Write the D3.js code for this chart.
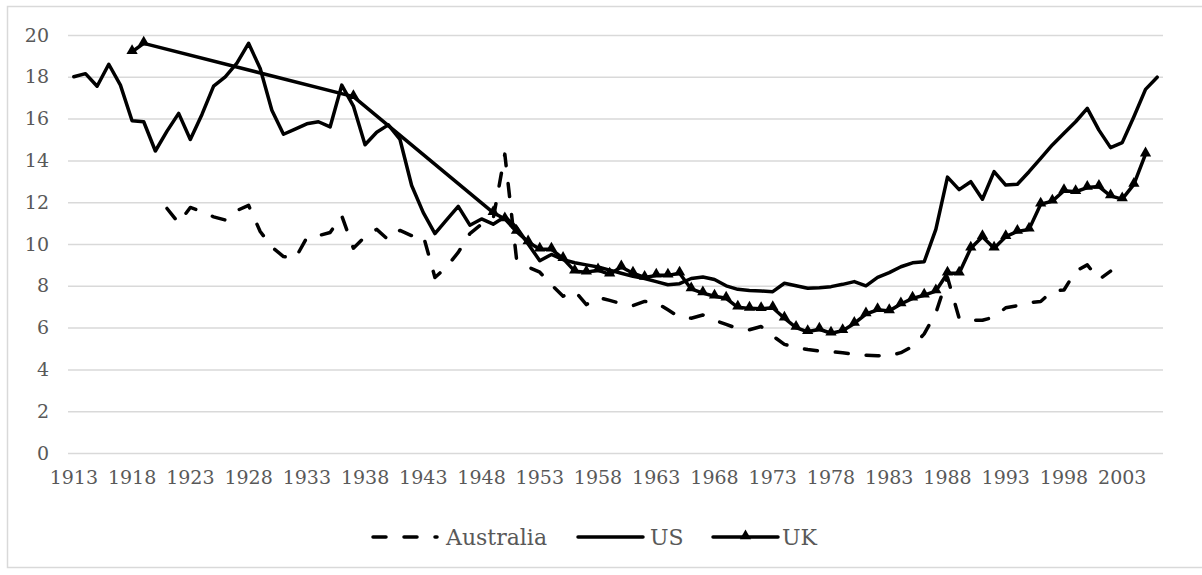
<!DOCTYPE html>
<html><head><meta charset="utf-8">
<script src="https://cdn.jsdelivr.net/npm/d3@7"></script>
<style>body{margin:0;background:#fff}</style>
</head><body>
<svg id="chart" width="1202" height="575"></svg>
<script>
const years = [1913,1914,1915,1916,1917,1918,1919,1920,1921,1922,
1923,1924,1925,1926,1927,1928,1929,1930,1931,1932,
1933,1934,1935,1936,1937,1938,1939,1940,1941,1942,
1943,1944,1945,1946,1947,1948,1949,1950,1951,1952,
1953,1954,1955,1956,1957,1958,1959,1960,1961,1962,
1963,1964,1965,1966,1967,1968,1969,1970,1971,1972,
1973,1974,1975,1976,1977,1978,1979,1980,1981,1982,
1983,1984,1985,1986,1987,1988,1989,1990,1991,1992,
1993,1994,1995,1996,1997,1998,1999,2000,2001,2002,
2003,2004,2005,2006];
const xTickLabels = [1913,1918,1923,1928,1933,1938,1943,1948,1953,1958,1963,1968,1973,1978,1983,1988,1993,1998,2003];
const yTickLabels = [0,2,4,6,8,10,12,14,16,18,20];
const seriesNames = ["Australia","US","UK"];

const australia = [null,null,null,null,null,null,null,null,11.7,11.0,
11.75,11.55,11.3,11.15,11.6,11.85,10.6,9.85,9.4,9.3,
10.3,10.4,10.55,11.35,9.8,10.35,10.7,10.2,10.65,10.4,
10.4,8.4,8.9,9.6,10.5,10.95,11.2,14.3,9.3,8.9,
8.65,8.05,7.5,7.75,7.1,7.45,7.3,7.15,7.05,7.25,
7.2,6.85,6.5,6.45,6.6,6.35,6.15,5.95,5.9,6.05,
5.6,5.2,5.05,4.95,4.88,4.85,4.8,4.72,4.68,4.65,
4.65,4.8,5.1,5.7,6.7,8.4,6.45,6.35,6.35,6.5,
6.95,7.05,7.2,7.25,7.75,7.8,8.7,9.0,8.3,8.7,
null,null,null,null];

const us = [18.0,18.15,17.55,18.6,17.6,15.9,15.85,14.45,15.4,16.25,
15.0,16.2,17.55,18.0,18.65,19.6,18.4,16.4,15.25,15.5,
15.75,15.85,15.6,17.6,16.6,14.75,15.35,15.7,15.0,12.8,
11.5,10.5,11.15,11.8,10.9,11.2,10.95,11.3,10.8,10.0,
9.2,9.5,9.25,9.1,9.0,8.9,8.75,8.6,8.45,8.35,
8.2,8.05,8.1,8.35,8.42,8.3,8.0,7.83,7.78,7.75,
7.72,8.12,8.0,7.88,7.91,7.96,8.07,8.2,8.0,8.4,
8.63,8.91,9.1,9.15,10.7,13.2,12.6,12.98,12.14,13.46,
12.82,12.86,13.46,14.1,14.74,15.3,15.85,16.49,15.45,14.61,
14.85,16.09,17.4,17.98];

const uk = [null,null,null,null,null,19.2,19.6,null,null,null,
null,null,null,null,null,null,null,null,null,null,
null,null,null,null,17.05,null,null,null,null,null,
null,null,null,null,null,null,11.5,11.2,10.6,10.1,
9.75,9.75,9.3,8.7,8.65,8.75,8.55,8.9,8.6,8.4,
8.5,8.5,8.6,7.85,7.65,7.5,7.4,6.97,6.92,6.9,
6.95,6.45,6.0,5.8,5.92,5.73,5.85,6.2,6.65,6.85,
6.8,7.13,7.4,7.55,7.75,8.6,8.6,9.8,10.35,9.8,
10.35,10.6,10.7,11.9,12.05,12.55,12.5,12.7,12.75,12.3,
12.15,12.85,14.3,null];

const FONT = "DejaVu Serif";
const svg = d3.select("#chart");
const plotL = 68, plotR = 1163, plotT = 35, plotB = 453;
const x = d3.scaleBand().domain(years).range([plotL, plotR]);
const cx = d => x(d) + x.bandwidth() / 2;
const y = d3.scaleLinear().domain([0, 20]).range([plotB, plotT]);

svg.append("rect").attr("x", 7.5).attr("y", 6.5).attr("width", 1196).attr("height", 561)
  .attr("fill", "#fff").attr("stroke", "#d9d9d9").attr("stroke-width", 1.5);

const gy = svg.append("g").attr("transform", `translate(${plotL},0)`)
  .call(d3.axisLeft(y).tickValues(yTickLabels).tickSize(-(plotR - plotL)).tickPadding(19).tickFormat(d3.format("d")));
gy.attr("font-family", FONT).attr("font-size", 19);
gy.select(".domain").remove();
gy.selectAll(".tick line").attr("stroke", "#d9d9d9").attr("stroke-width", 1.5);
gy.selectAll(".tick text").attr("fill", "#595959");

const gx = svg.append("g").attr("transform", `translate(0,${plotB})`)
  .call(d3.axisBottom(x).tickValues(xTickLabels).tickSize(0).tickPadding(18).tickFormat(d => String(d)));
gx.attr("font-family", FONT).attr("font-size", 19);
gx.select(".domain").remove();
gx.selectAll(".tick text").attr("fill", "#595959");

function pts(arr) {
  return years.map((yr, i) => ({yr, v: arr[i]})).filter(d => d.v !== null);
}
const line = d3.line().x(d => cx(d.yr)).y(d => y(d.v));

svg.append("path").datum(pts(australia)).attr("d", line)
  .attr("fill", "none").attr("stroke", "#000").attr("stroke-width", 3.5)
  .attr("stroke-dasharray", "13,18").attr("stroke-linecap", "round").attr("stroke-linejoin", "round");

svg.append("path").datum(pts(us)).attr("d", line)
  .attr("fill", "none").attr("stroke", "#000").attr("stroke-width", 3.5)
  .attr("stroke-linejoin", "round").attr("stroke-linecap", "round");

svg.append("path").datum(pts(uk)).attr("d", line)
  .attr("fill", "none").attr("stroke", "#000").attr("stroke-width", 3.5)
  .attr("stroke-linejoin", "round").attr("stroke-linecap", "round");

const tri = d3.symbol().type(d3.symbolTriangle).size(55);
svg.append("g").selectAll("path").data(pts(uk)).join("path")
  .attr("d", tri).attr("transform", d => `translate(${cx(d.yr)},${y(d.v) - 1})`)
  .attr("fill", "#000");

// legend
const lg = svg.append("g").attr("font-family", FONT).attr("font-size", 22);
const legY = 537;
const legendItems = [
  {name: seriesNames[0], x0: 373, x1: 437, tx: 446, dash: true, marker: false},
  {name: seriesNames[1], x0: 578, x1: 643, tx: 650, dash: false, marker: false},
  {name: seriesNames[2], x0: 713, x1: 778, tx: 782, dash: false, marker: true}
];
legendItems.forEach(it => {
  const l = lg.append("line").attr("x1", it.x0).attr("x2", it.x1).attr("y1", legY).attr("y2", legY)
    .attr("stroke", "#000").attr("stroke-width", 3.5).attr("stroke-linecap", "round");
  if (it.dash) l.attr("stroke-dasharray", "13,18");
  if (it.marker) lg.append("path").attr("d", tri).attr("transform", `translate(${(it.x0 + it.x1) / 2},${legY - 1})`).attr("fill", "#000");
  lg.append("text").attr("x", it.tx).attr("y", legY + 8).text(it.name).attr("fill", "#595959");
});
</script>
</body></html>
